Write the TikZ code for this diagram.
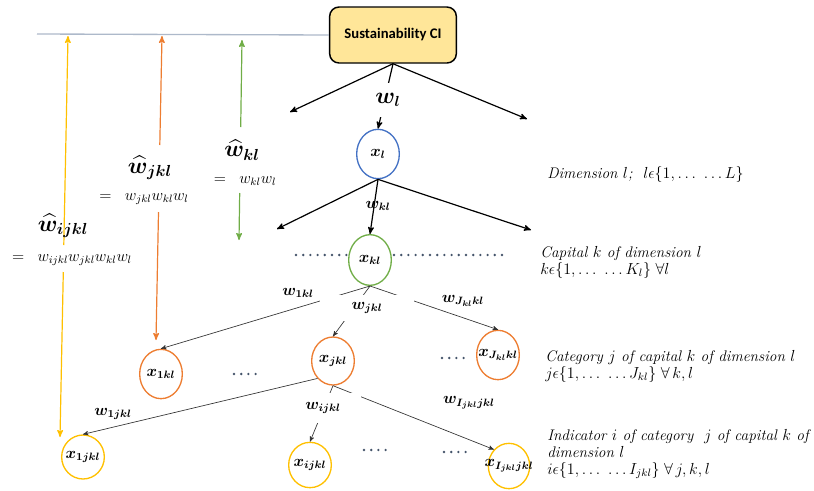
\documentclass[tikz,border=0pt]{standalone}
\usepackage{amsmath,bm}
\usepackage{fontspec}
\newfontfamily\calibri{Carlito}
\usepackage{tikz}
\usetikzlibrary{arrows,shapes.geometric,positioning}
\definecolor{ciyellow}{HTML}{FFE699}
\definecolor{dimblue}{HTML}{4472C4}
\definecolor{capgreen}{HTML}{70AD47}
\definecolor{catorange}{HTML}{ED7D31}
\definecolor{indyellow}{HTML}{FFC000}
\definecolor{prikkblue}{HTML}{44546A}
\definecolor{linjeblue}{HTML}{ADB9CA}
\tikzset{
>=stealth',
  boks/.style={
    rectangle,
    rounded corners=7pt,
    fill=ciyellow,
    draw=black, line width=1.1pt,
    minimum width=95pt,
    minimum height=42pt,
    font=\calibri\bfseries\fontsize{11}{13}\selectfont},
  sirkel/.style={
    ellipse,
    draw=#1, line width=1pt,
    minimum width=32pt,
    minimum height=37pt,
    inner sep=0pt,
    font=\fontsize{11.5}{13}\selectfont},
  pil/.style={->, line width=0.9pt},
  tynnpil/.style={->, line width=0.5pt, draw=black!80},
  fargepil/.style={->, line width=0.9pt, draw=#1},
  vekt/.style={font=\fontsize{11.5}{13}\selectfont, inner sep=1pt},
  hvit/.style={vekt, fill=white, inner sep=0pt},
  hatt/.style={font=\fontsize{18}{20}\selectfont, inner sep=0pt},
  produkt/.style={font=\fontsize{11.5}{13}\selectfont, inner sep=0pt},
  prikk/.style={draw=prikkblue, line width=2pt, line cap=round, dash pattern=on 0pt off 5.4pt},
  tekst/.style={anchor=west, align=left, inner sep=0pt,
    font=\itshape\fontsize{11.5}{12.75}\selectfont},
}

\begin{document}
\begin{tikzpicture}[x=0.75pt, y=-0.75pt]
    \useasboundingbox (0,0) rectangle (814,490);
    % top level
    \node[boks] (ci) at (393,35) {Sustainability CI};
    \coordinate (blstart) at (37,34);
    \draw[linjeblue, line width=1pt] (blstart) -- (ci.west);
    \node[sirkel=dimblue, minimum height=37pt] (xl) at (378,154) {\makebox[0pt]{$\bm{x_l}$}};
    \coordinate (dimv) at (290,112);
    \coordinate (dimh) at (527,119);
    \draw[pil] (ci.south) -- (dimv);
    \draw[pil] (ci.south) -- (dimh);
    \draw[pil] (ci.south) -- (xl.north);
    \node[hvit, font=\fontsize{16}{18}\selectfont, minimum width=20pt, minimum height=26pt] (wl) at (388,100) {$\bm{w_l}$};

    % capital level
    \node[sirkel=capgreen, minimum height=38pt] (xkl) at (370,260) {\makebox[0pt]{$\bm{x_{kl}}$}};
    \coordinate (capv) at (277,229);
    \coordinate (caph) at (531,230);
    \draw[pil] (xl.south) -- (capv);
    \draw[pil] (xl.south) -- (caph);
    \draw[pil] (xl.south) -- (xkl.north);
    \node[vekt] (wkl) at (378,206) {$\bm{w_{kl}}$};
    \draw[prikk] (296,255) -- (349,255);
    \draw[prikk] (394,255) -- (508,255);

    % category level
    \node[sirkel=catorange] (x1kl) at (161,374) {\makebox[0pt]{$\bm{x_{1kl}}$}};
    \node[sirkel=catorange, minimum height=36pt] (xjkl) at (333,361) {\makebox[0pt]{$\bm{x_{jkl}}$}};
    \node[sirkel=catorange] (xJkl) at (498,355) {\makebox[0pt]{$\bm{x_{J_{kl}kl}}$}};
    \draw[tynnpil] (xkl.south) -- (x1kl.north);
    \draw[tynnpil] (xkl.south) -- (xjkl.north);
    \draw[tynnpil] (xkl.south) -- (xJkl.north);
    \node[hvit, minimum width=71pt, minimum height=20pt] (wjkl) at (367,308) {$\bm{w_{jkl}}$};
    \node[vekt] (w1kl) at (298,293) {$\bm{w_{1kl}}$};
    \node[vekt] (wJkl) at (463,301) {$\bm{w_{J_{kl}kl}}$};
    \draw[prikk] (234,374) -- (257,374);
    \draw[prikk] (442,358) -- (465,358);

    % indicator level
    \node[sirkel=indyellow, minimum height=33pt] (x1jkl) at (83,457) {\makebox[0pt]{$\bm{x_{1jkl}}$}};
    \node[sirkel=indyellow, minimum height=34pt] (xijkl) at (310,465) {\makebox[0pt]{$\bm{x_{ijkl}}$}};
    \node[sirkel=indyellow, minimum width=31pt, minimum height=34pt] (xIjkl) at (509,466) {\makebox[0pt]{$\bm{x_{I_{jkl}jkl}}$}};
    \draw[tynnpil] (xjkl.south west) -- (x1jkl.north);
    \draw[tynnpil] (xjkl.south) -- (xijkl.north);
    \draw[tynnpil] (xjkl.south) -- (xIjkl.north west);
    \node[hvit, minimum width=57pt, minimum height=22pt] (wijkl) at (323,408) {$\bm{w_{ijkl}}$};
    \node[vekt] (w1jkl) at (113,414) {$\bm{w_{1jkl}}$};
    \node[vekt] (wIjkl) at (469,403) {$\bm{w_{I_{jkl}jkl}}$};
    \draw[prikk] (364,450) -- (387,450);
    \draw[prikk] (444,452) -- (467,452);

    % aggregated weights
    \coordinate (gtop) at (242,40);
    \coordinate (gm1) at (240.7,127);
    \coordinate (gm2) at (239.7,193);
    \coordinate (gbot) at (239,240);
    \draw[fargepil=capgreen] (gm1) -- (gtop);
    \draw[fargepil=capgreen] (gm2) -- (gbot);
    \node[hatt] (whkl) at (242,150) {$\widehat{\bm{w}}_{\bm{kl}}$};
    \node[produkt] (pkl) at (245,181) {$=\;\; w_{kl}w_l$};

    \coordinate (otop) at (162,36);
    \coordinate (om1) at (159.8,145);
    \coordinate (om2) at (158.5,212);
    \coordinate (obot) at (156,340);
    \draw[fargepil=catorange] (om1) -- (otop);
    \draw[fargepil=catorange] (om2) -- (obot);
    \node[hatt] (whjkl) at (150,168) {$\widehat{\bm{w}}_{\bm{jkl}}$};
    \node[produkt] (pjkl) at (144,199) {$=\;\; w_{jkl}w_{kl}w_l$};

    \coordinate (ytop) at (68,36);
    \coordinate (ym1) at (63.8,245);
    \coordinate (ym2) at (63.3,272);
    \coordinate (ybot) at (60,437);
    \draw[fargepil=indyellow] (ym1) -- (ytop);
    \draw[fargepil=indyellow] (ym2) -- (ybot);
    \node[hatt] (whijkl) at (63,226) {$\widehat{\bm{w}}_{\bm{ijkl}}$};
    \node[produkt] (pijkl) at (72,260) {$=\;\; w_{ijkl}w_{jkl}w_{kl}w_l$};

    % level texts
    \node[tekst] (tdim) at (547,174) {Dimension $l$;\ \ $l\epsilon\{1,\dots\ \dots L\}$};
    \node[tekst] (tcap) at (540,262) {Capital $k$ of dimension $l$\\
        $k\epsilon\{1,\dots\ \dots K_l\}\;\forall l$};
    \node[tekst] (tcat) at (545,366) {Category $j$ of capital $k$ of dimension $l$\\
        $j\epsilon\{1,\dots\ \dots J_{kl}\}\;\forall\, k,l$};
    \node[tekst] (tind) at (547,454) {Indicator $i$ of category\ \ $j$ of capital $k$ of\\
        dimension $l$\\
        $i\epsilon\{1,\dots\ \dots I_{jkl}\}\;\forall\, j,k,l$};
\end{tikzpicture}
\end{document}
